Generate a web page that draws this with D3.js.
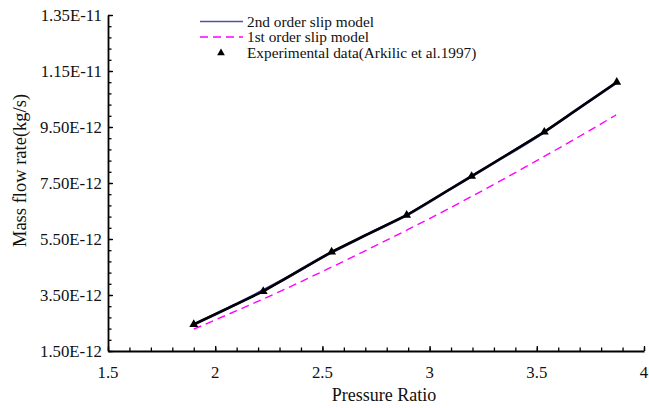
<!DOCTYPE html>
<html>
<head>
<meta charset="utf-8">
<script src="https://cdn.jsdelivr.net/npm/d3@7"></script>
<style>
  body { margin: 0; background: #fff; }
  svg text { font-family: "Liberation Serif", "Times New Roman", serif; fill: #111; }
</style>
</head>
<body>
<svg id="chart" width="649" height="408"></svg>
<script>
// DATA
const xTicks = [1.5, 2, 2.5, 3, 3.5, 4];
const xTickLabels = ['1.5', '2', '2.5', '3', '3.5', '4'];
const yTicks = [1.5e-12, 3.5e-12, 5.5e-12, 7.5e-12, 9.5e-12, 1.15e-11, 1.35e-11];
const yTickLabels = ['1.50E-12', '3.50E-12', '5.50E-12', '7.50E-12', '9.50E-12', '1.15E-11', '1.35E-11'];

// values in units of 1E-12 kg/s
const modelX = [1.9, 2.1, 2.3, 2.5, 2.7, 2.9, 3.1, 3.3, 3.5, 3.7, 3.87];
const secondOrder = [2.45, 3.18, 3.97, 4.85, 5.63, 6.38, 7.30, 8.22, 9.15, 10.19, 11.08];
const firstOrder = [2.28, 2.94, 3.62, 4.34, 5.08, 5.84, 6.63, 7.45, 8.30, 9.17, 9.93];

const expX = [1.90, 2.224, 2.543, 2.893, 3.196, 3.535, 3.873];
const expY = [2.45, 3.63, 5.04, 6.35, 7.74, 9.32, 11.1];

const E = 1e-12;

// SETUP
const svg = d3.select('svg');
const margin = { top: 15, right: 5, bottom: 57, left: 108 };
const width = 649 - margin.left - margin.right,
  height = 408 - margin.top - margin.bottom;

const x = d3.scaleLinear().domain([1.5, 4]).range([0, width]);
const y = d3.scaleLinear().domain([1.5e-12, 1.35e-11]).range([height, 0]);

const g = svg.append('g')
  .attr('transform', 'translate(' + margin.left + ',' + margin.top + ')');

// AXES (ticks point inward)
const noLabel = function () { return ''; };
const xMinor = d3.range(15, 41).map(function (d) { return d / 10; });
const yMinor = d3.range(0, 31).map(function (d) { return 1.5e-12 + d * 0.4e-12; });

g.append('g').attr('class', 'minor')
  .attr('transform', 'translate(0,' + height + ')')
  .call(d3.axisBottom(x).tickValues(xMinor).tickSize(-3.5).tickFormat(noLabel));
g.append('g').attr('class', 'minor')
  .call(d3.axisLeft(y).tickValues(yMinor).tickSize(-3.5).tickFormat(noLabel));
g.selectAll('.minor .domain').remove();

g.append('g').attr('transform', 'translate(0,' + height + ')')
  .call(d3.axisBottom(x).tickValues(xTicks).tickSizeInner(-5).tickSizeOuter(0)
    .tickFormat(noLabel));
g.append('g')
  .call(d3.axisLeft(y).tickValues(yTicks).tickSizeInner(-5).tickSizeOuter(0)
    .tickFormat(noLabel));

g.selectAll('.domain').attr('stroke', '#000').attr('stroke-width', 1.8);
g.selectAll('.tick line').attr('stroke', '#000').attr('stroke-width', 1.3);

// TICK LABELS
g.selectAll('.xlab')
  .data(xTicks)
  .enter()
  .append('text')
  .attr('class', 'xlab')
  .attr('x', function (d) { return x(d); })
  .attr('y', height + 27)
  .attr('text-anchor', 'middle')
  .attr('font-size', 16.8)
  .text(function (d, i) { return xTickLabels[i]; });

g.selectAll('.ylab')
  .data(yTicks)
  .enter()
  .append('text')
  .attr('class', 'ylab')
  .attr('x', -6)
  .attr('y', function (d) { return y(d); })
  .attr('dy', '0.34em')
  .attr('text-anchor', 'end')
  .attr('font-size', 16.8)
  .text(function (d, i) { return yTickLabels[i]; });

// AXIS LABELS
g.append('text')
  .attr('x', width / 2 + 8)
  .attr('y', height + 50)
  .attr('text-anchor', 'middle')
  .attr('font-size', 18)
  .text('Pressure Ratio');

g.append('text')
  .attr('transform', 'rotate(-90)')
  .attr('x', -155.5)
  .attr('y', -82.5)
  .attr('text-anchor', 'middle')
  .attr('font-size', 18.5)
  .text('Mass flow rate(kg/s)');

// LINES
const curve = d3.line()
  .x(function (d) { return x(d[0]); })
  .y(function (d) { return y(d[1] * E); })
  .curve(d3.curveMonotoneX);
const straight = d3.line()
  .x(function (d) { return x(d[0]); })
  .y(function (d) { return y(d[1] * E); });

g.append('path')
  .datum(modelX.map(function (d, i) { return [d, firstOrder[i]]; }))
  .attr('d', curve)
  .attr('fill', 'none')
  .attr('stroke', '#ff00ff')
  .attr('stroke-width', 1.4)
  .attr('stroke-dasharray', '8,5');

g.append('path')
  .datum(modelX.map(function (d, i) { return [d, secondOrder[i]]; }))
  .attr('d', curve)
  .attr('fill', 'none')
  .attr('stroke', '#3c3ca0')
  .attr('stroke-width', 2.8);

g.append('path')
  .datum(expX.map(function (d, i) { return [d, expY[i]]; }))
  .attr('d', straight)
  .attr('fill', 'none')
  .attr('stroke', '#000')
  .attr('stroke-width', 2.4);

const tri = d3.symbol().type(d3.symbolTriangle).size(34);
g.selectAll('.pt')
  .data(expX.map(function (d, i) { return [d, expY[i]]; }))
  .enter()
  .append('path')
  .attr('class', 'pt')
  .attr('transform', function (d) {
    return 'translate(' + x(d[0]) + ',' + y(d[1] * E) + ')';
  })
  .attr('d', tri)
  .attr('fill', '#000');

// LEGEND
const legend = svg.append('g').attr('transform', 'translate(200,0)');
const items = [
  { label: '2nd order slip model', type: 'line', y: 21.5 },
  { label: '1st order slip model', type: 'dash', y: 37 },
  { label: 'Experimental data(Arkilic et al.1997)', type: 'tri', y: 53 }
];
items.forEach(function (it) {
  if (it.type === 'line') {
    legend.append('line').attr('x1', 0).attr('x2', 43).attr('y1', it.y).attr('y2', it.y)
      .attr('stroke', '#5050a8').attr('stroke-width', 1.4);
  } else if (it.type === 'dash') {
    legend.append('line').attr('x1', 0).attr('x2', 43).attr('y1', it.y).attr('y2', it.y)
      .attr('stroke', '#ff00ff').attr('stroke-width', 1.4).attr('stroke-dasharray', '8,5');
  } else {
    legend.append('path').attr('transform', 'translate(21,' + it.y + ')')
      .attr('d', d3.symbol().type(d3.symbolTriangle).size(26)).attr('fill', '#000');
  }
  legend.append('text')
    .attr('x', 47)
    .attr('y', it.y)
    .attr('dy', '0.33em')
    .attr('font-size', 15.3)
    .text(it.label);
});
</script>
</body>
</html>
